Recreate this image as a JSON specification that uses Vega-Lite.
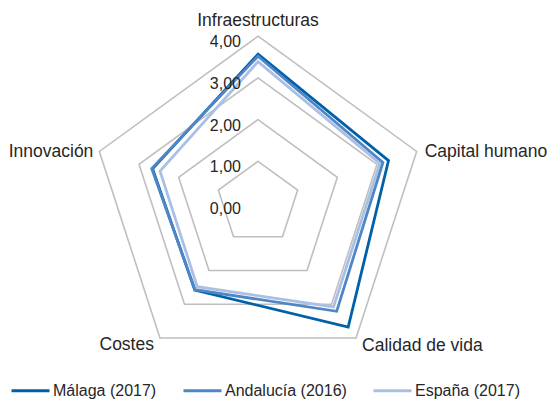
{
  "$schema": "https://vega.github.io/schema/vega-lite/v6.json",
  "width": 548,
  "height": 403,
  "padding": 0,
  "autosize": "none",
  "config": {
    "view": {"stroke": null},
    "text": {"font": "Liberation Sans", "color": "#262626"}
  },
  "datasets": {
    "series": [
      {"serie": "España (2017)", "eje": "Infraestructuras", "valor": 3.39},
      {"serie": "España (2017)", "eje": "Capital humano", "valor": 3.07},
      {"serie": "España (2017)", "eje": "Calidad de vida", "valor": 3.08},
      {"serie": "España (2017)", "eje": "Costes", "valor": 2.48},
      {"serie": "España (2017)", "eje": "Innovación", "valor": 2.47},
      {"serie": "Málaga (2017)", "eje": "Infraestructuras", "valor": 3.57},
      {"serie": "Málaga (2017)", "eje": "Capital humano", "valor": 3.29},
      {"serie": "Málaga (2017)", "eje": "Calidad de vida", "valor": 3.68},
      {"serie": "Málaga (2017)", "eje": "Costes", "valor": 2.58},
      {"serie": "Málaga (2017)", "eje": "Innovación", "valor": 2.66},
      {"serie": "Andalucía (2016)", "eje": "Infraestructuras", "valor": 3.52},
      {"serie": "Andalucía (2016)", "eje": "Capital humano", "valor": 3.15},
      {"serie": "Andalucía (2016)", "eje": "Calidad de vida", "valor": 3.21},
      {"serie": "Andalucía (2016)", "eje": "Costes", "valor": 2.57},
      {"serie": "Andalucía (2016)", "eje": "Innovación", "valor": 2.68}
    ],
    "rejilla": [
      {"nivel": 1, "eje": ["Infraestructuras", "Capital humano", "Calidad de vida", "Costes", "Innovación"]},
      {"nivel": 2, "eje": ["Infraestructuras", "Capital humano", "Calidad de vida", "Costes", "Innovación"]},
      {"nivel": 3, "eje": ["Infraestructuras", "Capital humano", "Calidad de vida", "Costes", "Innovación"]},
      {"nivel": 4, "eje": ["Infraestructuras", "Capital humano", "Calidad de vida", "Costes", "Innovación"]}
    ],
    "marcas": [
      {"valor": 0, "texto": "0,00"},
      {"valor": 1, "texto": "1,00"},
      {"valor": 2, "texto": "2,00"},
      {"valor": 3, "texto": "3,00"},
      {"valor": 4, "texto": "4,00"}
    ],
    "ejes": [
      {"eje": "Infraestructuras", "valor": 4},
      {"eje": "Capital humano", "valor": 4},
      {"eje": "Calidad de vida", "valor": 4},
      {"eje": "Costes", "valor": 4},
      {"eje": "Innovación", "valor": 4}
    ]
  },
  "encoding": {
    "x": {"field": "x", "type": "quantitative", "scale": {"domain": [-6.187, 6.954], "nice": false, "zero": false}, "axis": null},
    "y": {"field": "y", "type": "quantitative", "scale": {"domain": [-4.796, 4.868], "nice": false, "zero": false}, "axis": null}
  },
  "layer": [
    {
      "data": {"name": "rejilla"},
      "transform": [
        {"flatten": ["eje"]},
        {"calculate": "indexof(['Infraestructuras','Capital humano','Calidad de vida','Costes','Innovación'], datum.eje)", "as": "i"},
        {"calculate": "datum.nivel*sin(datum.i*2*PI/5)", "as": "x"},
        {"calculate": "datum.nivel*cos(datum.i*2*PI/5)", "as": "y"}
      ],
      "mark": {"type": "line", "interpolate": "linear-closed", "color": "#BFBFBF", "strokeWidth": 1.6},
      "encoding": {
        "detail": {"field": "nivel", "type": "nominal"},
        "order": {"field": "i", "type": "quantitative"}
      }
    },
    {
      "data": {"name": "series"},
      "transform": [
        {"calculate": "indexof(['Infraestructuras','Capital humano','Calidad de vida','Costes','Innovación'], datum.eje)", "as": "i"},
        {"calculate": "datum.valor*sin(datum.i*2*PI/5)", "as": "x"},
        {"calculate": "datum.valor*cos(datum.i*2*PI/5)", "as": "y"}
      ],
      "mark": {"type": "line", "interpolate": "linear-closed", "strokeWidth": 2.8},
      "encoding": {
        "color": {
          "field": "serie",
          "type": "nominal",
          "scale": {"domain": ["Málaga (2017)", "Andalucía (2016)", "España (2017)"], "range": ["#0061A8", "#4F86C6", "#A9C0E4"]},
          "legend": {
            "title": null,
            "orient": "none",
            "direction": "horizontal",
            "legendX": 10,
            "legendY": 370,
            "symbolType": "stroke",
            "symbolSize": 1444,
            "symbolStrokeWidth": 3,
            "labelFont": "Liberation Sans",
            "labelFontSize": 16,
            "labelColor": "#262626",
            "labelOffset": 2,
            "columnPadding": 20
          }
        },
        "order": {"field": "i", "type": "quantitative"}
      }
    },
    {
      "data": {"name": "marcas"},
      "transform": [
        {"calculate": "0", "as": "x"},
        {"calculate": "datum.valor", "as": "y"}
      ],
      "mark": {"type": "text", "align": "right", "baseline": "alphabetic", "dx": -17, "dy": 11, "fontSize": 16},
      "encoding": {"text": {"field": "texto"}}
    },
    {
      "data": {"name": "ejes"},
      "transform": [
        {"filter": "datum.eje == 'Infraestructuras'"},
        {"calculate": "0", "as": "x"},
        {"calculate": "datum.valor", "as": "y"}
      ],
      "mark": {"type": "text", "align": "center", "baseline": "alphabetic", "dy": -10, "fontSize": 17.5},
      "encoding": {"text": {"field": "eje"}}
    },
    {
      "data": {"name": "ejes"},
      "transform": [
        {"filter": "datum.eje == 'Capital humano'"},
        {"calculate": "datum.valor*sin(2*PI/5)", "as": "x"},
        {"calculate": "datum.valor*cos(2*PI/5)", "as": "y"}
      ],
      "mark": {"type": "text", "align": "left", "baseline": "alphabetic", "dx": 8, "dy": 6, "fontSize": 17.5},
      "encoding": {"text": {"field": "eje"}}
    },
    {
      "data": {"name": "ejes"},
      "transform": [
        {"filter": "datum.eje == 'Calidad de vida'"},
        {"calculate": "datum.valor*sin(4*PI/5)", "as": "x"},
        {"calculate": "datum.valor*cos(4*PI/5)", "as": "y"}
      ],
      "mark": {"type": "text", "align": "left", "baseline": "alphabetic", "dx": 6, "dy": 13, "fontSize": 17.5},
      "encoding": {"text": {"field": "eje"}}
    },
    {
      "data": {"name": "ejes"},
      "transform": [
        {"filter": "datum.eje == 'Costes'"},
        {"calculate": "datum.valor*sin(6*PI/5)", "as": "x"},
        {"calculate": "datum.valor*cos(6*PI/5)", "as": "y"}
      ],
      "mark": {"type": "text", "align": "right", "baseline": "alphabetic", "dx": -6, "dy": 12, "fontSize": 17.5},
      "encoding": {"text": {"field": "eje"}}
    },
    {
      "data": {"name": "ejes"},
      "transform": [
        {"filter": "datum.eje == 'Innovación'"},
        {"calculate": "datum.valor*sin(8*PI/5)", "as": "x"},
        {"calculate": "datum.valor*cos(8*PI/5)", "as": "y"}
      ],
      "mark": {"type": "text", "align": "right", "baseline": "alphabetic", "dx": -6, "dy": 6, "fontSize": 17.5},
      "encoding": {"text": {"field": "eje"}}
    }
  ]
}
